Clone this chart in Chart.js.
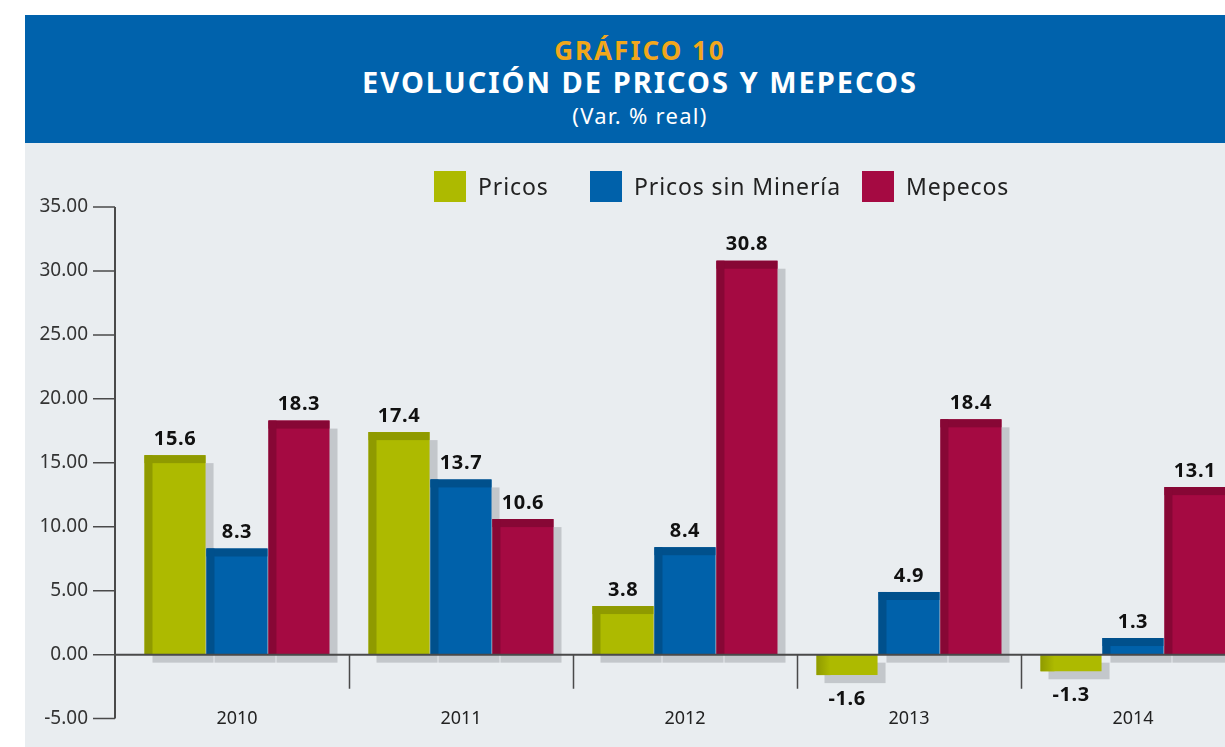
<!DOCTYPE html>
<html>
<head>
<meta charset="utf-8">
<script src="https://cdn.jsdelivr.net/npm/chart.js@4.4.0/dist/chart.umd.min.js"></script>
<style>
  html, body { margin: 0; padding: 0; width: 1225px; height: 747px; overflow: hidden; background: #ffffff; font-family: "Noto Sans", sans-serif; }
  #panel { position: absolute; left: 25px; top: 143px; width: 1240px; height: 620px; background: #e9edf0; }
  #header { position: absolute; left: 25px; top: 15px; width: 1230px; height: 128px; background: #0062ac; text-align: center; }
  #header div { position: absolute; left: 0; width: 1230px; }
  #header .t1 { top: 17px; color: #f2a71b; font-weight: bold; font-size: 26px; letter-spacing: 2px; }
  #header .t2 { top: 47px; color: #ffffff; font-weight: bold; font-size: 29px; letter-spacing: 2px; }
  #header .t3 { top: 85px; color: #ffffff; font-size: 22px; letter-spacing: 1.3px; }
  .item { position: absolute; top: 170px; display: flex; align-items: center; font-size: 23px; letter-spacing: 0.9px; color: #222; }
  .item .sw { width: 32px; height: 31px; margin-right: 12px; }
  #chart { position: absolute; left: 0; top: 143px; }
</style>
</head>
<body>
<div id="panel"></div>
<div id="header">
  <div class="t1">GRÁFICO 10</div>
  <div class="t2">EVOLUCIÓN DE PRICOS Y MEPECOS</div>
  <div class="t3">(Var. % real)</div>
</div>
<canvas id="chart" width="1260" height="624"></canvas>
<script>
const years = ["2010", "2011", "2012", "2013", "2014"];
const seriesNames = ["Pricos", "Pricos sin Minería", "Mepecos"];
const pricos = [15.6, 17.4, 3.8, -1.6, -1.3];
const pricosSinMineria = [8.3, 13.7, 8.4, 4.9, 1.3];
const mepecos = [18.3, 10.6, 30.8, 18.4, 13.1];
const yTicks = [-5, 0, 5, 10, 15, 20, 25, 30, 35];

const fills = ["#adba00", "#0061aa", "#a50a42"];
const bevels = ["#8f9a00", "#00508c", "#870735"];
const legendLeft = [434, 590, 862];

// legend
seriesNames.forEach((name, i) => {
    const item = document.createElement("div");
    item.className = "item";
    item.style.left = legendLeft[i] + "px";
    item.innerHTML = '<div class="sw" style="background:' + fills[i] + '"></div><span>' + name + '</span>';
    document.body.appendChild(item);
});

const axisX = 115; // y axis line sits 10px left of the first category

const decorations = {
    id: "decorations",
    beforeDatasetsDraw(chart) {
        const ctx = chart.ctx;
        ctx.save();
        ctx.fillStyle = "#c3c7cb";
        chart.data.datasets.forEach((ds, di) => {
            chart.getDatasetMeta(di).data.forEach(bar => {
                const top = Math.min(bar.y, bar.base);
                const h = Math.abs(bar.base - bar.y);
                ctx.fillRect(bar.x - bar.width / 2 + 8, top + 8, bar.width, h);
            });
        });
        ctx.restore();
    },
    afterDatasetsDraw(chart) {
        const ctx = chart.ctx;
        const area = chart.chartArea;
        const y = chart.scales.y;
        const x = chart.scales.x;
        ctx.save();
        // bevel on bars
        chart.data.datasets.forEach((ds, di) => {
            chart.getDatasetMeta(di).data.forEach((bar, i) => {
                const left = bar.x - bar.width / 2;
                ctx.fillStyle = bevels[di];
                if (ds.data[i] > 0) {
                    ctx.fillRect(left, bar.y, bar.width, 8);
                    ctx.fillRect(left, bar.y, 8, bar.base - bar.y);
                } else {
                    const g = ctx.createLinearGradient(left, 0, left + 14, 0);
                    g.addColorStop(0, bevels[di]);
                    g.addColorStop(1, fills[di]);
                    ctx.fillStyle = g;
                    ctx.fillRect(left, bar.base, 14, bar.y - bar.base);
                }
            });
        });
        // value labels
        ctx.fillStyle = "#111";
        ctx.font = "bold 20px 'Noto Sans', sans-serif";
        ctx.letterSpacing = "0.6px";
        ctx.textAlign = "center";
        chart.data.datasets.forEach((ds, di) => {
            chart.getDatasetMeta(di).data.forEach((bar, i) => {
                const v = ds.data[i];
                if (v >= 0) {
                    ctx.textBaseline = "bottom";
                    ctx.fillText(v.toFixed(1), bar.x, bar.y - 6);
                } else {
                    ctx.textBaseline = "top";
                    ctx.fillText(v.toFixed(1), bar.x, bar.y + 14);
                }
            });
        });
        ctx.letterSpacing = "0px";
        // axes
        const zero = y.getPixelForValue(0);
        ctx.strokeStyle = "#4a4a4a";
        ctx.lineWidth = 2;
        ctx.beginPath();
        ctx.moveTo(axisX, area.top);
        ctx.lineTo(axisX, area.bottom);
        ctx.moveTo(axisX, zero);
        ctx.lineTo(area.right + 20, zero);
        ctx.stroke();
        ctx.lineWidth = 1.5;
        ctx.beginPath();
        yTicks.forEach(t => {
            const py = y.getPixelForValue(t);
            ctx.moveTo(axisX - 22, py);
            ctx.lineTo(axisX, py);
        });
        const step = (area.right - area.left) / years.length;
        for (let k = 1; k < years.length; k++) {
            const px = Math.round(area.left + step * k) + 0.5;
            ctx.moveTo(px, zero);
            ctx.lineTo(px, zero + 34);
        }
        ctx.stroke();
        // category labels
        ctx.fillStyle = "#222";
        ctx.font = "18px 'Noto Sans', sans-serif";
        ctx.textBaseline = "middle";
        years.forEach((yr, i) => {
            ctx.fillText(yr, x.getPixelForValue(i), area.bottom);
        });
        ctx.restore();
    }
};

new Chart(document.getElementById("chart"), {
    type: "bar",
    data: {
        labels: years,
        datasets: [
            { label: seriesNames[0], data: pricos, backgroundColor: fills[0] },
            { label: seriesNames[1], data: pricosSinMineria, backgroundColor: fills[1] },
            { label: seriesNames[2], data: mepecos, backgroundColor: fills[2] }
        ]
    },
    options: {
        responsive: false,
        animation: false,
        layout: { padding: { left: 0, right: 15, top: 64, bottom: 30 } },
        datasets: { bar: { categoryPercentage: 0.83, barPercentage: 0.985 } },
        plugins: { legend: { display: false }, tooltip: { enabled: false } },
        scales: {
            x: { display: false },
            y: {
                min: -5,
                max: 35,
                afterFit(scale) { scale.width = 125; },
                afterBuildTicks(scale) { scale.ticks = yTicks.map(v => ({ value: v })); },
                grid: { display: false, drawTicks: false },
                border: { display: false },
                ticks: {
                    padding: 37,
                    color: "#333",
                    font: { family: "'Noto Sans', sans-serif", size: 19 },
                    callback: v => v.toFixed(2)
                }
            }
        }
    },
    plugins: [decorations]
});
</script>
</body>
</html>
